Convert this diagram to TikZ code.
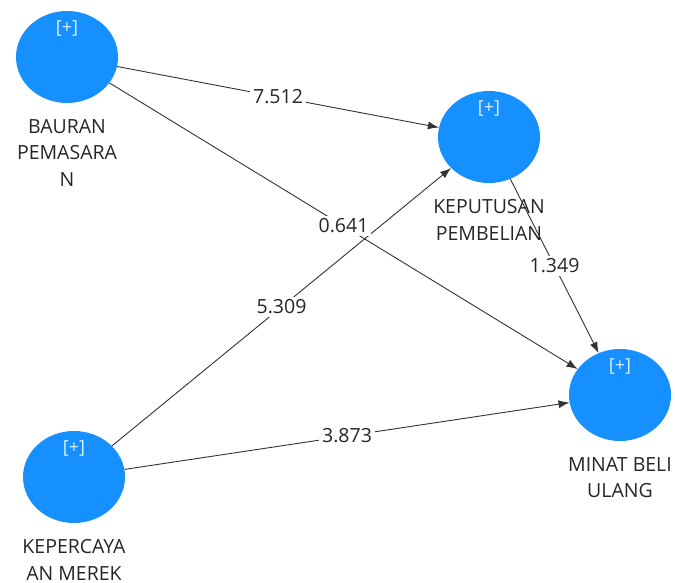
\documentclass[tikz,border=0pt]{standalone}
\usepackage{fontspec}
\setmainfont{Open Sans}
\usetikzlibrary{positioning,arrows.meta,shapes.geometric}
\definecolor{lvblue}{RGB}{22,144,255}
\tikzset{
latent/.style = {ellipse, fill=lvblue, minimum width=102pt, minimum height=92pt, inner sep=0pt},
plusmark/.style = {inner sep=0pt, text=white!85!lvblue, font=\fontsize{18}{18}\selectfont},
lvname/.style = {align=center, inner sep=0pt, text=black!85, font=\fontsize{19.5}{26.5}\selectfont},
coef/.style = {fill=white, inner sep=3pt, text=black!85, font=\fontsize{19.5}{19.5}\selectfont},
link/.style = {draw=black!80, line width=0.9pt, -{Latex[length=11pt,width=8pt]}}
}

\begin{document}
\begin{tikzpicture}[x=1pt,y=1pt]
\useasboundingbox (0,0) rectangle (675,583);
% latent variables
\node[latent] (bauran) at (67,526) {};
\node[latent] (keputusan) at (489,446) {};
\node[latent] (minat) at (620,188) {};
\node[latent] (kepercayaan) at (74,106) {};
% [+] markers
\node[plusmark, below=10pt of bauran.north] (bauran-p) {[+]};
\node[plusmark, below=10pt of keputusan.north] (keputusan-p) {[+]};
\node[plusmark, below=10pt of minat.north] (minat-p) {[+]};
\node[plusmark, below=10pt of kepercayaan.north] (kepercayaan-p) {[+]};
% names
\node[lvname, below=16pt of bauran] (bauran-n) {BAURAN\\PEMASARA\\N};
\node[lvname, below=16pt of keputusan] (keputusan-n) {KEPUTUSAN\\PEMBELIAN};
\node[lvname, below=16pt of minat] (minat-n) {MINAT BELI\\ULANG};
\node[lvname, below=16pt of kepercayaan] (kepercayaan-n) {KEPERCAYA\\AN MEREK};
% paths with coefficients
\draw[link] (kepercayaan) -- node[coef] (c-kk) {5.309} (keputusan);
\draw[link] (kepercayaan) -- node[coef] (c-km) {3.873} (minat);
\draw[link] (bauran) -- node[coef] (c-bk) {7.512} (keputusan);
\draw[link] (keputusan) -- node[coef] (c-pm) {1.349} (minat);
\draw[link] (bauran) -- node[coef] (c-bm) {0.641} (minat);
\end{tikzpicture}
\end{document}
